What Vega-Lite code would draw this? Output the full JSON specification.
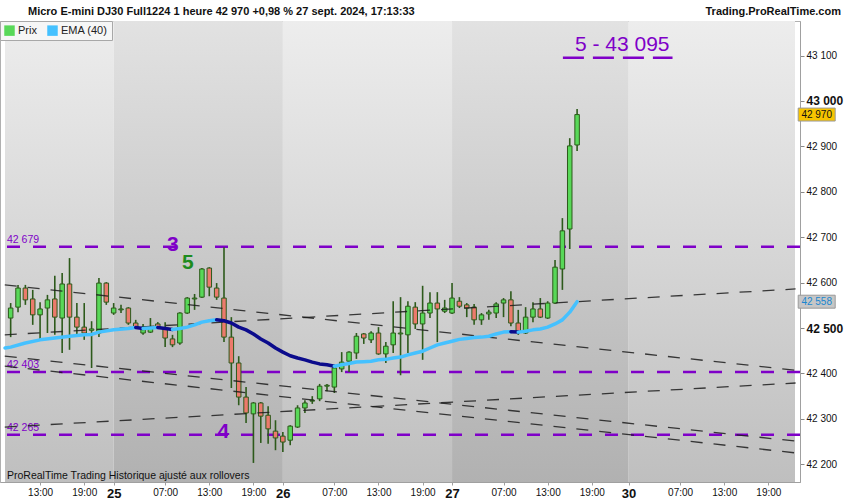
{
  "$schema": "https://vega.github.io/schema/vega-lite/v6.json",
  "width": 800,
  "height": 461,
  "autosize": {"type": "none"},
  "padding": {"top": 21, "left": 0, "right": 50, "bottom": 18},
  "background": "white",
  "config": {
    "font": "Liberation Sans",
    "view": {"stroke": "#b0b0b0"}
  },
  "datasets": {
    "bands": [
      {"day": "24", "start": -14.77, "end": 0, "tone": "light"},
      {"day": "25", "start": 0, "end": 23, "tone": "dark"},
      {"day": "26", "start": 23, "end": 46, "tone": "light"},
      {"day": "27", "start": 46, "end": 70, "tone": "dark"},
      {"day": "30", "start": 70, "end": 92.62, "tone": "light"}
    ],
    "levels": [
      {"price": 42679, "label": "42 679"},
      {"price": 42403, "label": "42 403"},
      {"price": 42265, "label": "42 265"}
    ],
    "target": [
      {"i": 61.07, "price": 43095},
      {"i": 75.97, "price": 43095}
    ],
    "trends": [
      {"line": "L1", "i": -14.8, "price": 42485},
      {"line": "L1", "i": 92.7, "price": 42586},
      {"line": "L2", "i": -14.8, "price": 42595},
      {"line": "L2", "i": 92.7, "price": 42407},
      {"line": "L3", "i": -14.8, "price": 42438},
      {"line": "L3", "i": 92.7, "price": 42251},
      {"line": "L4", "i": -14.8, "price": 42416},
      {"line": "L4", "i": 92.7, "price": 42225},
      {"line": "L5", "i": -14.8, "price": 42282},
      {"line": "L5", "i": 92.7, "price": 42379}
    ],
    "candles": [
      {"i": -14, "o": 42522, "h": 42555, "l": 42480, "c": 42544},
      {"i": -13, "o": 42546, "h": 42595, "l": 42535, "c": 42588},
      {"i": -12, "o": 42588, "h": 42595, "l": 42551, "c": 42562},
      {"i": -11, "o": 42564, "h": 42584, "l": 42507, "c": 42529},
      {"i": -10, "o": 42529, "h": 42557, "l": 42474, "c": 42542},
      {"i": -9, "o": 42544, "h": 42573, "l": 42489, "c": 42562},
      {"i": -8, "o": 42564, "h": 42615, "l": 42485, "c": 42524},
      {"i": -7, "o": 42522, "h": 42621, "l": 42445, "c": 42597},
      {"i": -6, "o": 42597, "h": 42654, "l": 42452, "c": 42524},
      {"i": -5, "o": 42524, "h": 42555, "l": 42480, "c": 42502},
      {"i": -4, "o": 42502, "h": 42555, "l": 42474, "c": 42489},
      {"i": -3, "o": 42495, "h": 42515, "l": 42412, "c": 42498},
      {"i": -2, "o": 42489, "h": 42610, "l": 42480, "c": 42599},
      {"i": -1, "o": 42599, "h": 42601, "l": 42551, "c": 42557},
      {"i": 0, "o": 42533, "h": 42555, "l": 42529, "c": 42544},
      {"i": 1, "o": 42540, "h": 42551, "l": 42533, "c": 42542},
      {"i": 2, "o": 42544, "h": 42546, "l": 42507, "c": 42511},
      {"i": 3, "o": 42511, "h": 42518, "l": 42498, "c": 42500},
      {"i": 4, "o": 42489, "h": 42509, "l": 42485, "c": 42502},
      {"i": 5, "o": 42491, "h": 42522, "l": 42489, "c": 42502},
      {"i": 6, "o": 42509, "h": 42513, "l": 42498, "c": 42502},
      {"i": 7, "o": 42498, "h": 42513, "l": 42458, "c": 42478},
      {"i": 8, "o": 42476, "h": 42485, "l": 42458, "c": 42463},
      {"i": 9, "o": 42467, "h": 42535, "l": 42463, "c": 42533},
      {"i": 10, "o": 42533, "h": 42568, "l": 42531, "c": 42566},
      {"i": 11, "o": 42564, "h": 42575, "l": 42540, "c": 42566},
      {"i": 12, "o": 42568, "h": 42632, "l": 42566, "c": 42630},
      {"i": 13, "o": 42632, "h": 42634, "l": 42570, "c": 42590},
      {"i": 14, "o": 42588, "h": 42599, "l": 42562, "c": 42568},
      {"i": 15, "o": 42566, "h": 42678, "l": 42469, "c": 42480},
      {"i": 16, "o": 42480, "h": 42524, "l": 42368, "c": 42423},
      {"i": 17, "o": 42423, "h": 42438, "l": 42330, "c": 42348},
      {"i": 18, "o": 42348, "h": 42370, "l": 42291, "c": 42313},
      {"i": 19, "o": 42311, "h": 42337, "l": 42203, "c": 42335},
      {"i": 20, "o": 42335, "h": 42337, "l": 42247, "c": 42306},
      {"i": 21, "o": 42308, "h": 42328, "l": 42245, "c": 42278},
      {"i": 22, "o": 42273, "h": 42297, "l": 42231, "c": 42258},
      {"i": 23, "o": 42262, "h": 42271, "l": 42227, "c": 42249},
      {"i": 24, "o": 42253, "h": 42286, "l": 42242, "c": 42284},
      {"i": 25, "o": 42282, "h": 42330, "l": 42280, "c": 42324},
      {"i": 26, "o": 42324, "h": 42341, "l": 42313, "c": 42335},
      {"i": 27, "o": 42339, "h": 42350, "l": 42333, "c": 42341},
      {"i": 28, "o": 42344, "h": 42377, "l": 42339, "c": 42372},
      {"i": 29, "o": 42372, "h": 42377, "l": 42361, "c": 42374},
      {"i": 30, "o": 42370, "h": 42419, "l": 42357, "c": 42412},
      {"i": 31, "o": 42410, "h": 42447, "l": 42403, "c": 42425},
      {"i": 32, "o": 42427, "h": 42449, "l": 42403, "c": 42447},
      {"i": 33, "o": 42445, "h": 42489, "l": 42432, "c": 42482},
      {"i": 34, "o": 42487, "h": 42489, "l": 42465, "c": 42478},
      {"i": 35, "o": 42474, "h": 42493, "l": 42467, "c": 42489},
      {"i": 36, "o": 42489, "h": 42502, "l": 42441, "c": 42443},
      {"i": 37, "o": 42443, "h": 42469, "l": 42423, "c": 42460},
      {"i": 38, "o": 42463, "h": 42559, "l": 42445, "c": 42489},
      {"i": 39, "o": 42487, "h": 42568, "l": 42396, "c": 42489},
      {"i": 40, "o": 42485, "h": 42559, "l": 42445, "c": 42548},
      {"i": 41, "o": 42546, "h": 42557, "l": 42498, "c": 42509},
      {"i": 42, "o": 42509, "h": 42593, "l": 42430, "c": 42533},
      {"i": 43, "o": 42533, "h": 42579, "l": 42522, "c": 42555},
      {"i": 44, "o": 42555, "h": 42579, "l": 42469, "c": 42542},
      {"i": 45, "o": 42537, "h": 42562, "l": 42533, "c": 42544},
      {"i": 46, "o": 42533, "h": 42599, "l": 42531, "c": 42566},
      {"i": 47, "o": 42559, "h": 42568, "l": 42544, "c": 42548},
      {"i": 48, "o": 42551, "h": 42555, "l": 42524, "c": 42544},
      {"i": 49, "o": 42546, "h": 42553, "l": 42507, "c": 42518},
      {"i": 50, "o": 42518, "h": 42533, "l": 42507, "c": 42529},
      {"i": 51, "o": 42531, "h": 42540, "l": 42518, "c": 42535},
      {"i": 52, "o": 42533, "h": 42557, "l": 42522, "c": 42553},
      {"i": 53, "o": 42555, "h": 42566, "l": 42524, "c": 42562},
      {"i": 54, "o": 42562, "h": 42581, "l": 42504, "c": 42511},
      {"i": 55, "o": 42511, "h": 42540, "l": 42485, "c": 42491},
      {"i": 56, "o": 42489, "h": 42546, "l": 42487, "c": 42524},
      {"i": 57, "o": 42524, "h": 42557, "l": 42513, "c": 42542},
      {"i": 58, "o": 42542, "h": 42566, "l": 42522, "c": 42524},
      {"i": 59, "o": 42522, "h": 42559, "l": 42520, "c": 42555},
      {"i": 60, "o": 42555, "h": 42650, "l": 42553, "c": 42634},
      {"i": 61, "o": 42630, "h": 42742, "l": 42584, "c": 42714},
      {"i": 62, "o": 42718, "h": 42918, "l": 42674, "c": 42901},
      {"i": 63, "o": 42903, "h": 42982, "l": 42890, "c": 42970}
    ],
    "ema": [
      {"seg": 1, "trend": "up", "i": -14.77, "ema": 42456},
      {"seg": 1, "trend": "up", "i": -14, "ema": 42458},
      {"seg": 1, "trend": "up", "i": -12, "ema": 42467},
      {"seg": 1, "trend": "up", "i": -10, "ema": 42474},
      {"seg": 1, "trend": "up", "i": -8, "ema": 42478},
      {"seg": 1, "trend": "up", "i": -6, "ema": 42482},
      {"seg": 1, "trend": "up", "i": -4, "ema": 42485},
      {"seg": 1, "trend": "up", "i": -3, "ema": 42486},
      {"seg": 1, "trend": "up", "i": -2, "ema": 42491},
      {"seg": 1, "trend": "up", "i": 0, "ema": 42496},
      {"seg": 1, "trend": "up", "i": 2, "ema": 42499},
      {"seg": 1, "trend": "up", "i": 3, "ema": 42501},
      {"seg": 2, "trend": "down", "i": 3, "ema": 42501},
      {"seg": 2, "trend": "down", "i": 4, "ema": 42499},
      {"seg": 3, "trend": "up", "i": 4, "ema": 42499},
      {"seg": 3, "trend": "up", "i": 5, "ema": 42500},
      {"seg": 3, "trend": "up", "i": 6, "ema": 42501},
      {"seg": 4, "trend": "down", "i": 6, "ema": 42501},
      {"seg": 4, "trend": "down", "i": 7, "ema": 42499},
      {"seg": 4, "trend": "down", "i": 8, "ema": 42497},
      {"seg": 5, "trend": "up", "i": 8, "ema": 42497},
      {"seg": 5, "trend": "up", "i": 9, "ema": 42499},
      {"seg": 5, "trend": "up", "i": 10, "ema": 42502},
      {"seg": 5, "trend": "up", "i": 11, "ema": 42507},
      {"seg": 5, "trend": "up", "i": 12, "ema": 42513},
      {"seg": 5, "trend": "up", "i": 13, "ema": 42516},
      {"seg": 5, "trend": "up", "i": 14, "ema": 42518},
      {"seg": 6, "trend": "down", "i": 14, "ema": 42518},
      {"seg": 6, "trend": "down", "i": 15, "ema": 42516},
      {"seg": 6, "trend": "down", "i": 16, "ema": 42511},
      {"seg": 6, "trend": "down", "i": 17, "ema": 42502},
      {"seg": 6, "trend": "down", "i": 18, "ema": 42496},
      {"seg": 6, "trend": "down", "i": 19, "ema": 42487},
      {"seg": 6, "trend": "down", "i": 20, "ema": 42476},
      {"seg": 6, "trend": "down", "i": 21, "ema": 42467},
      {"seg": 6, "trend": "down", "i": 22, "ema": 42456},
      {"seg": 6, "trend": "down", "i": 23, "ema": 42447},
      {"seg": 6, "trend": "down", "i": 24, "ema": 42439},
      {"seg": 6, "trend": "down", "i": 25, "ema": 42434},
      {"seg": 6, "trend": "down", "i": 26, "ema": 42430},
      {"seg": 6, "trend": "down", "i": 27, "ema": 42425},
      {"seg": 6, "trend": "down", "i": 28, "ema": 42421},
      {"seg": 6, "trend": "down", "i": 29, "ema": 42419},
      {"seg": 6, "trend": "down", "i": 30, "ema": 42416},
      {"seg": 7, "trend": "up", "i": 30, "ema": 42416},
      {"seg": 7, "trend": "up", "i": 31, "ema": 42419},
      {"seg": 7, "trend": "up", "i": 32, "ema": 42422},
      {"seg": 7, "trend": "up", "i": 33, "ema": 42425},
      {"seg": 7, "trend": "up", "i": 34, "ema": 42426},
      {"seg": 7, "trend": "up", "i": 35, "ema": 42427},
      {"seg": 7, "trend": "up", "i": 36, "ema": 42430},
      {"seg": 7, "trend": "up", "i": 37, "ema": 42431},
      {"seg": 7, "trend": "up", "i": 38, "ema": 42434},
      {"seg": 7, "trend": "up", "i": 39, "ema": 42436},
      {"seg": 7, "trend": "up", "i": 40, "ema": 42441},
      {"seg": 7, "trend": "up", "i": 41, "ema": 42445},
      {"seg": 7, "trend": "up", "i": 42, "ema": 42449},
      {"seg": 7, "trend": "up", "i": 43, "ema": 42456},
      {"seg": 7, "trend": "up", "i": 44, "ema": 42463},
      {"seg": 7, "trend": "up", "i": 45, "ema": 42467},
      {"seg": 7, "trend": "up", "i": 46, "ema": 42471},
      {"seg": 7, "trend": "up", "i": 47, "ema": 42475},
      {"seg": 7, "trend": "up", "i": 48, "ema": 42477},
      {"seg": 7, "trend": "up", "i": 49, "ema": 42479},
      {"seg": 7, "trend": "up", "i": 50, "ema": 42480},
      {"seg": 7, "trend": "up", "i": 51, "ema": 42482},
      {"seg": 7, "trend": "up", "i": 52, "ema": 42487},
      {"seg": 7, "trend": "up", "i": 53, "ema": 42491},
      {"seg": 7, "trend": "up", "i": 54, "ema": 42492},
      {"seg": 8, "trend": "down", "i": 54, "ema": 42492},
      {"seg": 8, "trend": "down", "i": 55, "ema": 42491},
      {"seg": 9, "trend": "up", "i": 55, "ema": 42491},
      {"seg": 9, "trend": "up", "i": 56, "ema": 42493},
      {"seg": 9, "trend": "up", "i": 57, "ema": 42496},
      {"seg": 9, "trend": "up", "i": 58, "ema": 42498},
      {"seg": 9, "trend": "up", "i": 59, "ema": 42502},
      {"seg": 9, "trend": "up", "i": 60, "ema": 42509},
      {"seg": 9, "trend": "up", "i": 61, "ema": 42518},
      {"seg": 9, "trend": "up", "i": 62, "ema": 42535},
      {"seg": 9, "trend": "up", "i": 63, "ema": 42558}
    ],
    "waves": [
      {"label": "3", "i": 8.05, "price": 42683},
      {"label": "5", "i": 10.07, "price": 42643},
      {"label": "4", "i": 14.9, "price": 42271}
    ],
    "goal": [
      {"label": "5 - 43 095", "i": 69.13, "price": 43123}
    ],
    "quotes": [
      {"label": "42 970", "price": 42970, "kind": "last"},
      {"label": "42 558", "price": 42558, "kind": "ema"}
    ],
    "series": [
      {"serie": "Prix"},
      {"serie": "EMA (40)"}
    ],
    "notes": [
      {"text": "ProRealTime Trading  Historique ajusté aux rollovers"}
    ],
    "header": [
      {"text": "Micro E-mini DJ30 Full1224 1 heure 42 970 +0,98 % 27 sept. 2024, 17:13:33"}
    ],
    "brand": [
      {"text": "Trading.ProRealTime.com"}
    ]
  },
  "encoding": {
    "x": {
      "type": "quantitative",
      "scale": {"domain": [-14.77, 92.62], "nice": false, "zero": false},
      "axis": {
        "title": null,
        "orient": "bottom",
        "grid": false,
        "values": [-10, -4, 0, 7, 13, 19, 23, 30, 36, 42, 46, 53, 59, 65, 70, 77, 83, 89],
        "labelExpr": "{'-10':'13:00','-4':'19:00','0':'25','7':'07:00','13':'13:00','19':'19:00','23':'26','30':'07:00','36':'13:00','42':'19:00','46':'27','53':'07:00','59':'13:00','65':'19:00','70':'30','77':'07:00','83':'13:00','89':'19:00'}[datum.value]",
        "labelFontWeight": {"condition": {"test": "indexof([0, 23, 46, 70], datum.value) >= 0", "value": "bold"}, "value": "normal"},
        "labelFontSize": {"condition": {"test": "indexof([0, 23, 46, 70], datum.value) >= 0", "value": 13}, "value": 10},
        "labelColor": "#111111",
        "labelPadding": 2,
        "labelFlush": false,
        "labelOverlap": false,
        "domainColor": "#a0a0a0",
        "tickColor": "#a0a0a0",
        "tickSize": 3
      }
    },
    "y": {
      "type": "quantitative",
      "scale": {"domain": [42161, 43176], "nice": false, "zero": false},
      "axis": {
        "title": null,
        "orient": "right",
        "grid": false,
        "values": [42200, 42300, 42400, 42500, 42600, 42700, 42800, 42900, 43000, 43100],
        "labelExpr": "replace(format(datum.value, ','), ',', ' ')",
        "labelFontWeight": {"condition": {"test": "datum.value == 43000 || datum.value == 42500", "value": "bold"}, "value": "normal"},
        "labelFontSize": {"condition": {"test": "datum.value == 43000 || datum.value == 42500", "value": 12}, "value": 10},
        "labelColor": "#111111",
        "labelPadding": 2,
        "domainColor": "#a0a0a0",
        "tickColor": "#888888",
        "tickSize": 4
      }
    }
  },
  "layer": [
    {
      "data": {"name": "bands"},
      "transform": [{"filter": "datum.tone == 'light'"}],
      "mark": {
        "type": "rect",
        "color": {"gradient": "linear", "x1": 0, "y1": 0, "x2": 0, "y2": 1,
          "stops": [{"offset": 0, "color": "#ededed"}, {"offset": 1, "color": "#bfbfbf"}]}
      },
      "encoding": {
        "x": {"field": "start", "type": "quantitative"},
        "x2": {"field": "end"},
        "y": {"datum": 43176},
        "y2": {"datum": 42161}
      }
    },
    {
      "data": {"name": "bands"},
      "transform": [{"filter": "datum.tone == 'dark'"}],
      "mark": {
        "type": "rect",
        "color": {"gradient": "linear", "x1": 0, "y1": 0, "x2": 0, "y2": 1,
          "stops": [{"offset": 0, "color": "#e2e2e2"}, {"offset": 1, "color": "#b1b1b1"}]}
      },
      "encoding": {
        "x": {"field": "start", "type": "quantitative"},
        "x2": {"field": "end"},
        "y": {"datum": 43176},
        "y2": {"datum": 42161}
      }
    },
    {
      "data": {"name": "levels"},
      "mark": {"type": "rule", "color": "#7f00c8", "strokeWidth": 2.5, "strokeDash": [13, 13]},
      "encoding": {
        "x": null,
        "y": {"field": "price", "type": "quantitative"}
      }
    },
    {
      "data": {"name": "levels"},
      "mark": {"type": "text", "color": "#7f00c8", "fontSize": 10.5, "align": "left", "baseline": "alphabetic", "dx": 2, "dy": -4},
      "encoding": {
        "x": {"datum": -14.77},
        "y": {"field": "price", "type": "quantitative"},
        "text": {"field": "label"}
      }
    },
    {
      "data": {"name": "target"},
      "mark": {"type": "line", "color": "#7f00c8", "strokeWidth": 2.5, "strokeDash": [21, 9]},
      "encoding": {
        "x": {"field": "i", "type": "quantitative"},
        "y": {"field": "price", "type": "quantitative"}
      }
    },
    {
      "data": {"name": "candles"},
      "mark": {"type": "rule", "color": "#2d5a1b", "strokeWidth": 1.6},
      "encoding": {
        "x": {"field": "i", "type": "quantitative"},
        "y": {"field": "l", "type": "quantitative"},
        "y2": {"field": "h"}
      }
    },
    {
      "data": {"name": "candles"},
      "mark": {"type": "bar", "size": 4.5, "stroke": "#2d5a1b", "strokeWidth": 1},
      "encoding": {
        "x": {"field": "i", "type": "quantitative"},
        "y": {"field": "o", "type": "quantitative"},
        "y2": {"field": "c"},
        "fill": {"condition": {"test": "datum.c >= datum.o", "value": "#58d858"}, "value": "#ec7a6c"}
      }
    },
    {
      "data": {"name": "trends"},
      "mark": {"type": "line", "clip": true, "color": "#1c1c1c", "strokeWidth": 1.3, "opacity": 0.85, "strokeDash": [12, 11]},
      "encoding": {
        "x": {"field": "i", "type": "quantitative"},
        "y": {"field": "price", "type": "quantitative"},
        "detail": {"field": "line"}
      }
    },
    {
      "data": {"name": "ema"},
      "mark": {"type": "line", "strokeWidth": 3.5, "strokeCap": "round", "strokeJoin": "round"},
      "encoding": {
        "x": {"field": "i", "type": "quantitative"},
        "y": {"field": "ema", "type": "quantitative"},
        "detail": {"field": "seg"},
        "stroke": {"field": "trend", "type": "nominal", "scale": {"domain": ["up", "down"], "range": ["#45c1ff", "#0b0b8c"]}, "legend": null}
      }
    },
    {
      "data": {"name": "waves"},
      "mark": {"type": "text", "fontSize": 21, "fontWeight": "bold", "align": "center", "baseline": "middle"},
      "encoding": {
        "x": {"field": "i", "type": "quantitative"},
        "y": {"field": "price", "type": "quantitative"},
        "text": {"field": "label"},
        "color": {"condition": {"test": "datum.label == '5'", "value": "#1e8c1e"}, "value": "#7f00c8"}
      }
    },
    {
      "data": {"name": "goal"},
      "mark": {"type": "text", "fontSize": 21, "color": "#7f00c8", "align": "center", "baseline": "middle"},
      "encoding": {
        "x": {"field": "i", "type": "quantitative"},
        "y": {"field": "price", "type": "quantitative"},
        "text": {"field": "label"}
      }
    },
    {
      "data": {"name": "notes"},
      "mark": {"type": "text", "fontSize": 10.5, "color": "#111111", "align": "left", "baseline": "alphabetic", "dx": 2, "dy": -3},
      "encoding": {
        "x": {"datum": -14.77},
        "y": {"datum": 42161},
        "text": {"field": "text"}
      }
    },
    {
      "data": {"name": "header"},
      "mark": {"type": "text", "fontSize": 11, "fontWeight": "bold", "color": "#111111", "align": "left", "baseline": "alphabetic", "dx": 23, "dy": -6},
      "encoding": {
        "x": {"datum": -14.77},
        "y": {"datum": 43176},
        "text": {"field": "text"}
      }
    },
    {
      "data": {"name": "brand"},
      "mark": {"type": "text", "fontSize": 11, "fontWeight": "bold", "color": "#111111", "align": "right", "baseline": "alphabetic", "dx": 46, "dy": -6},
      "encoding": {
        "x": {"datum": 92.62},
        "y": {"datum": 43176},
        "text": {"field": "text"}
      }
    },
    {
      "data": {"name": "quotes"},
      "mark": {"type": "point", "filled": true, "opacity": 1, "shape": "M-1,-0.35L1,-0.35L1,0.35L-1,0.35Z", "size": 1369, "stroke": "#9a9a9a", "strokeWidth": 1},
      "encoding": {
        "x": {"datum": 95.57},
        "y": {"field": "price", "type": "quantitative"},
        "fill": {"condition": {"test": "datum.kind == 'last'", "value": "#f7c400"}, "value": "#c6c6c6"}
      }
    },
    {
      "data": {"name": "quotes"},
      "mark": {"type": "text", "fontSize": 10, "align": "center", "baseline": "middle"},
      "encoding": {
        "x": {"datum": 95.57},
        "y": {"field": "price", "type": "quantitative"},
        "text": {"field": "label"},
        "color": {"condition": {"test": "datum.kind == 'last'", "value": "#111111"}, "value": "#1a86d0"}
      }
    },
    {
      "data": {"name": "series"},
      "mark": {"type": "point", "filled": true, "opacity": 1, "clip": true, "shape": "square"},
      "encoding": {
        "x": {"datum": -50},
        "y": {"datum": 42000},
        "color": {
          "field": "serie",
          "type": "nominal",
          "scale": {"domain": ["Prix", "EMA (40)"], "range": ["#58d858", "#45c1ff"]},
          "legend": {
            "title": null,
            "orient": "top-left",
            "offset": 0,
            "direction": "horizontal",
            "fillColor": "#f6f6f6",
            "strokeColor": "#a8a8a8",
            "padding": 4,
            "symbolType": "square",
            "symbolSize": 110,
            "symbolStrokeWidth": 0,
            "labelFontSize": 11,
            "labelColor": "#222222",
            "labelOffset": 3,
            "columnPadding": 10
          }
        }
      }
    }
  ]
}
